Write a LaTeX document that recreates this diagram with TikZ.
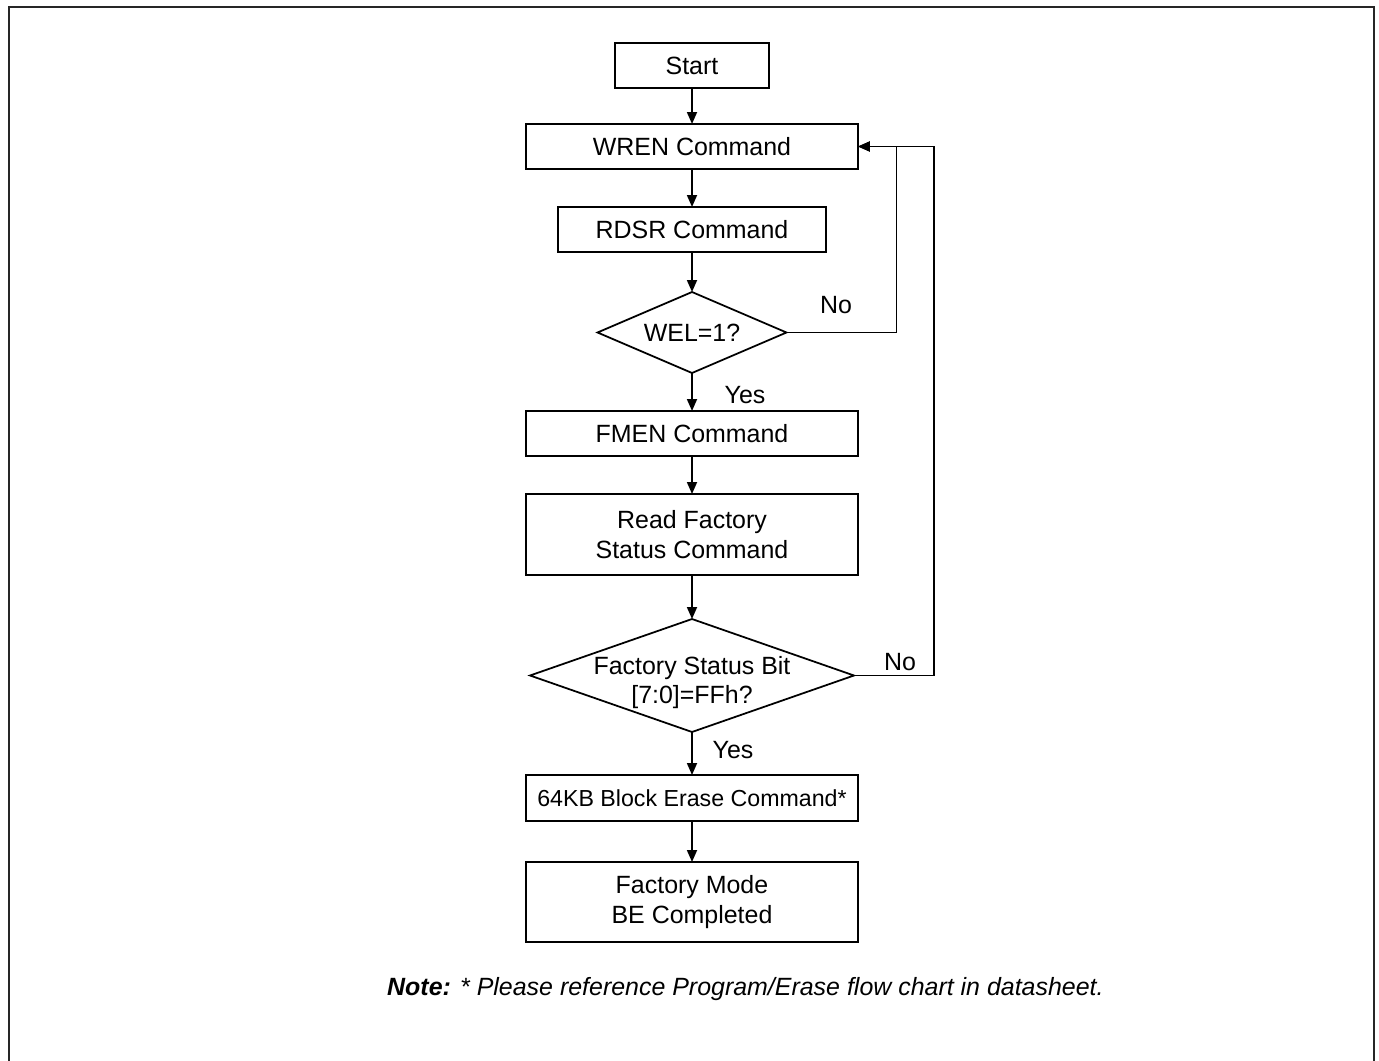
\documentclass[tikz,border=0pt]{standalone}
\usepackage{fontspec}
\setmainfont{Liberation Sans}
\usetikzlibrary{shapes.geometric, arrows.meta, positioning}

\begin{document}
\begin{tikzpicture}[x=0.02cm, y=-0.02cm,
  box/.style={draw, line width=1pt, minimum width=6.64cm, minimum height=0.9cm,
    inner sep=0pt, outer sep=0pt, align=center, font=\fontsize{14.2}{17}\selectfont},
  decision/.style={draw, diamond, line width=1pt, inner sep=-0.2cm, outer sep=0pt,
    align=center, font=\fontsize{14.2}{17}\selectfont},
  lbl/.style={font=\fontsize{14.2}{17}\selectfont, align=center},
  flow/.style={->, line width=1pt},
  >={Triangle[length=0.24cm, width=0.2cm]}]
\useasboundingbox (0,0) rectangle (1379,1061);
% Frame
\draw[line width=0.05cm, black!85] (9,1061) -- (9,7) -- (1374,7) -- (1374,1061);
% Steps
\node[box, minimum width=3.08cm] (start) at (692,65.5) {Start};
\node[box] (wren) at (692,146.5) {WREN Command};
\node[box, minimum width=5.36cm] (rdsr) at (692,229.5) {RDSR Command};
\node[decision, aspect=2.33, minimum width=3.78cm, minimum height=1.62cm] (wel) at (692,332.5) {WEL=1?};
\node[box] (fmen) at (692,433.5) {FMEN Command};
\node[box, minimum height=1.62cm] (rdfs) at (692,534.5) {Read Factory\\Status Command};
\node[decision, minimum width=6.48cm, minimum height=2.26cm] (fsb) at (692,675.5) {};
\node[lbl, font=\fontsize{14.2}{16.5}\selectfont] (fsbtext) at (692,683) {Factory Status Bit\\{[7:0]=FFh?}};
\node[box, minimum height=0.92cm, font=\fontsize{13.2}{16}\selectfont] (be) at (692,798)
  {64KB Block Erase Command*};
\node[box, minimum height=1.6cm] (done) at (692,902) {Factory Mode\\BE Completed};
% Main flow
\foreach \a/\b in {start/wren, wren/rdsr, rdsr/wel, wel/fmen, fmen/rdfs, rdfs/fsb, fsb/be, be/done}
  \draw[flow] (\a) -- (\b);
% Loops back
\draw[flow] (wel.east) -- ++(110,0) |- (wren.east);
\draw[flow] (fsb.east) -- ++(80,0) |- (wren.east);
% Branch labels
\node[lbl] (no1) at (836,305) {No};
\node[lbl] (yes1) at (745,395) {Yes};
\node[lbl] (no2) at (900,662) {No};
\node[lbl] (yes2) at (733,750) {Yes};
% Note
\node[anchor=base west, font=\fontsize{14.2}{17}\selectfont\itshape] (note) at (381,995)
  {\textbf{Note:} * Please reference Program/Erase flow chart in datasheet.};
\end{tikzpicture}
\end{document}
